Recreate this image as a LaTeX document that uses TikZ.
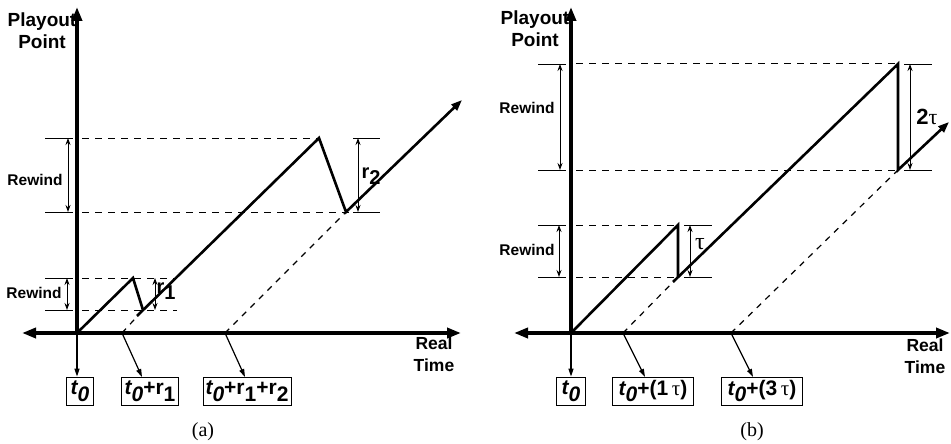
\documentclass[tikz,border=0pt]{standalone}
\usepackage{fontspec}
\setmainfont{Liberation Sans}
\newfontfamily\serifrm{Liberation Serif}
\usetikzlibrary{arrows.meta}
\newcommand\lowsub[1]{\raisebox{-0.32em}{#1}}
\newcommand\tnull{{\bfseries\itshape t\lowsub{0}}}
\newcommand\tauch{{\serifrm τ}}
\tikzset{
  axisline/.style={line width=3.6pt},
  axhead/.style={-{Triangle[length=14pt,width=10pt]}},
  curve/.style={line width=2.6pt},
  curvehead/.style={-{Triangle[length=11pt,width=8pt]}},
  dim/.style={line width=0.9pt,{Stealth[length=7pt,width=5pt]}-{Stealth[length=7pt,width=5pt]}},
  tickline/.style={line width=0.9pt},
  guide/.style={line width=1pt,dash pattern=on 7pt off 6pt},
  ext/.style={line width=1.2pt,dash pattern=on 6pt off 6pt},
  pointer/.style={line width=1.2pt,-{Triangle[length=8pt,width=5pt]}},
  lbox/.style={draw,line width=0.8pt,minimum height=28pt,inner sep=1pt,font=\fontsize{21}{21}\selectfont},
  rw/.style={font=\bfseries\fontsize{15.5}{15.5}\selectfont},
  axlabel/.style={font=\bfseries\fontsize{19}{22}\selectfont,align=center,inner sep=0pt},
  rtlabel/.style={font=\bfseries\fontsize{17.5}{22}\selectfont,align=center,inner sep=0pt},
  sublabel/.style={font=\serifrm\fontsize{20}{20}\selectfont,inner sep=0pt},
  dimlabel/.style={font=\bfseries\fontsize{20}{20}\selectfont,inner sep=0pt}
}
\begin{document}
\begin{tikzpicture}[x=1pt,y=-1pt]
\useasboundingbox (0,0) rectangle (951,444);
% ================= panel (a) =================
\coordinate (O1) at (77,333);
\coordinate (Ytop1) at (77,7);
\coordinate (Xl1) at (22,333);
\coordinate (Xr1) at (461,333);
\coordinate (P1) at (133,278);
\coordinate (R1) at (143,310);
\coordinate (S2) at (137,316);
\coordinate (A1) at (122,333);
\coordinate (P2) at (319,138);
\coordinate (R2) at (346,212);
\coordinate (T1) at (462,100);
\coordinate (A2) at (225,333);
% guides
\draw[guide] (82,138) -- (P2);
\draw[guide] (82,212) -- (351,212);
\draw[guide] (82,278) -- (177,278);
\draw[guide] (82,310) -- (177,310);
\draw[tickline] (45,138) -- (73,138) (45,212) -- (73,212);
\draw[tickline] (45,278) -- (73,278) (45,310) -- (73,310);
\draw[tickline] (353,138) -- (380,138) (353,212) -- (380,212);
\draw[dim] (68,138) -- (68,212);
\draw[dim] (67,278) -- (67,310);
\draw[dim] (358,138) -- (358,212);
\draw[dim] (155,278) -- (155,310);
\node[rw] (rwa1) at (35,180) {Rewind};
\node[rw] (rwa2) at (34,293) {Rewind};
\node[dimlabel] (r2lab) at (371,176) {r\lowsub{2}};
\node[dimlabel] (r1lab) at (166,291) {r\lowsub{1}};
% extensions
\draw[ext] (A1) -- (R1);
\draw[ext] (A2) -- (R2);
% axes
\draw[axisline,axhead] (O1) -- (Ytop1);
\draw[axisline,{Triangle[length=14pt,width=10pt]}-{Triangle[length=14pt,width=10pt]}] (Xl1) -- (Xr1);
% curve
\draw[curve,line join=miter] (O1) -- (P1) -- (R1);
\draw[curve,curvehead,line join=miter] (S2) -- (P2) -- (R2) -- (T1);
% labels
\node[axlabel] (pp1) at (42,31) {Playout\\Point};
\node[rtlabel] (rt1) at (434,354) {Real\\Time};
\node[lbox,minimum width=27pt] (ba0) at (80,391) {\tnull};
\node[lbox,minimum width=57pt] (ba1) at (150,391) {\tnull{\bfseries+r\lowsub{1}}};
\node[lbox,minimum width=88pt] (ba2) at (247,391) {\tnull{\bfseries+r\lowsub{1}+r\lowsub{2}}};
\draw[pointer] (O1) -- (ba0.north -| O1);
\draw[pointer] (A1) -- (142,377);
\draw[pointer] (A2) -- (245,377);
\node[sublabel] (capa) at (203,432) {(a)};
% ================= panel (b) =================
\coordinate (O2) at (571,333);
\coordinate (Ytop2) at (571,7);
\coordinate (Xl2) at (514,333);
\coordinate (Xr2) at (950,333);
\coordinate (Q1) at (678,225);
\coordinate (U1) at (678,277);
\coordinate (V2) at (673,282);
\coordinate (B1) at (623,333);
\coordinate (Q2) at (898,64);
\coordinate (U2) at (898,170);
\coordinate (T2) at (949,122);
\coordinate (B2) at (731,333);
\draw[guide] (576,64) -- (Q2);
\draw[guide] (576,170) -- (U2);
\draw[guide] (576,225) -- (Q1);
\draw[guide] (576,277) -- (U1);
\draw[tickline] (538,64) -- (566,64) (538,170) -- (566,170);
\draw[tickline] (538,225) -- (566,225) (538,277) -- (566,277);
\draw[tickline] (904,64) -- (932,64) (904,170) -- (932,170);
\draw[tickline] (684,225) -- (712,225) (684,277) -- (712,277);
\draw[dim] (560,64) -- (560,170);
\draw[dim] (559,225) -- (559,277);
\draw[dim] (910,64) -- (910,170);
\draw[dim] (690,225) -- (690,277);
\node[rw] (rwb1) at (527,108) {Rewind};
\node[rw] (rwb2) at (527,250) {Rewind};
\node[font=\fontsize{24}{24}\selectfont,inner sep=0pt] (taulab) at (700,244) {\tauch};
\node[font=\fontsize{22}{22}\selectfont,inner sep=0pt] (tau2lab) at (927,117) {{\bfseries 2}\tauch};
\draw[ext] (B1) -- (U1);
\draw[ext] (B2) -- (U2);
\draw[axisline,axhead] (O2) -- (Ytop2);
\draw[axisline,{Triangle[length=14pt,width=10pt]}-{Triangle[length=14pt,width=10pt]}] (Xl2) -- (Xr2);
\draw[curve,line join=miter] (O2) -- (Q1) -- (U1);
\draw[curve,curvehead,line join=miter] (V2) -- (Q2) -- (U2) -- (T2);
\node[axlabel] (pp2) at (535,29) {Playout\\Point};
\node[rtlabel] (rt2) at (925,356) {Real\\Time};
\node[lbox,minimum width=29pt] (bb0) at (571,391) {\tnull};
\node[lbox,minimum width=81pt] (bb1) at (653,391) {\tnull{\bfseries+(1}\,\tauch{\bfseries)}};
\node[lbox,minimum width=81pt] (bb2) at (762,391) {\tnull{\bfseries+(3}\,\tauch{\bfseries)}};
\draw[pointer] (O2) -- (bb0.north -| O2);
\draw[pointer] (B1) -- (645,377);
\draw[pointer] (B2) -- (753,377);
\node[sublabel] (capb) at (752,432) {(b)};
\end{tikzpicture}
\end{document}
